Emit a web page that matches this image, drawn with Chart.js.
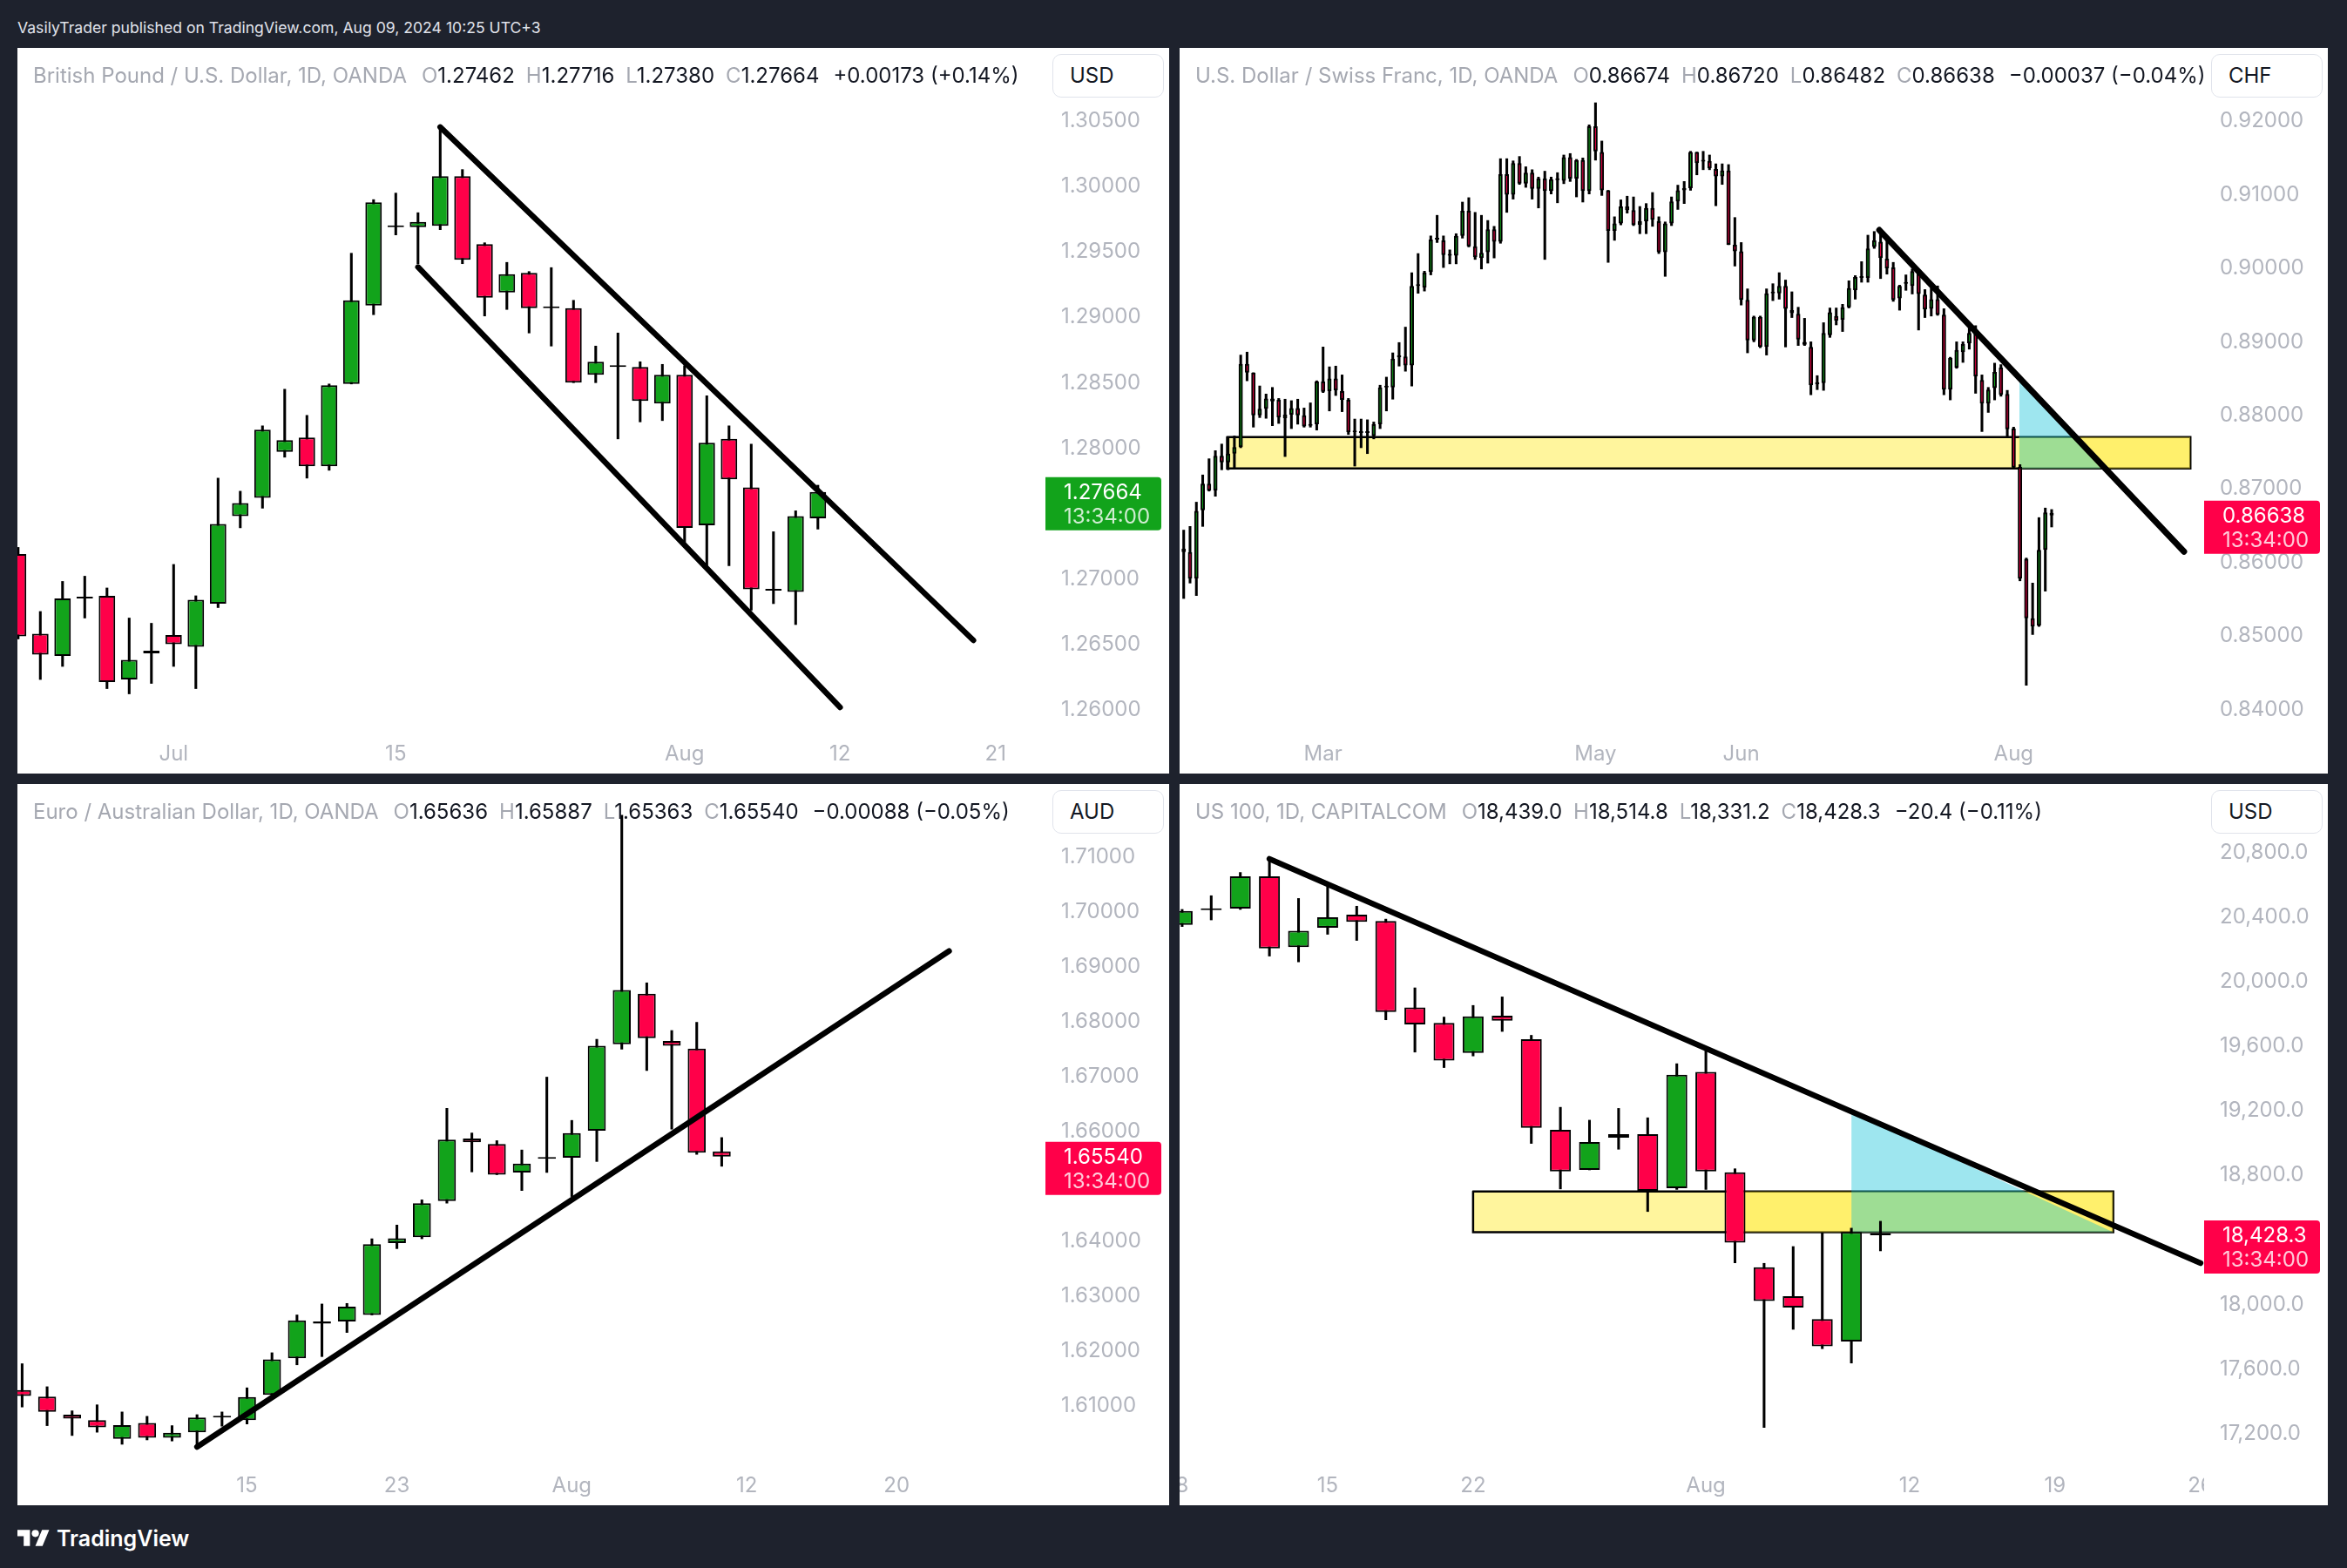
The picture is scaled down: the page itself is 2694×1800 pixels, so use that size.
<!DOCTYPE html>
<html lang="en">
<head>
<meta charset="UTF-8">
<title>TradingView snapshot</title>
<script src="https://cdn.jsdelivr.net/npm/chart.js"></script>
<style>
  body { margin:0; background:#1e222d; width:2694px; height:1800px; position:relative; overflow:hidden; font-family: Inter, "Noto Sans", sans-serif; }
  .panel { position:absolute; background:#fff; overflow:hidden; }
  .panel canvas { position:absolute; left:0; top:0; }
  .legend { position:absolute; left:18px; top:18px; font-size:24px; line-height:28px; color:#131722; white-space:nowrap; }
  .legend .t { color:#a5a8b1; margin-right:4px; }
  .legend .k { color:#a5a8b1; margin-left:13px; }
  .legend .v { margin-left:16px; }
  .cur { position:absolute; top:7px; width:128px; height:50px; box-sizing:border-box; border:1px solid #e0e3eb; border-radius:10px; font-size:24px; line-height:48px; padding-left:19px; color:#131722; background:#fff; }
  #hdr { position:absolute; left:20px; top:21px; font-size:17.6px; line-height:22px; color:#e0e3eb; white-space:nowrap; }
  #foot { position:absolute; left:20px; top:1750px; height:32px; display:flex; align-items:center; color:#fff; font-size:25px; font-weight:600; }
  #foot svg { margin-right:8px; }
</style>
</head>
<body>
<div id="hdr">VasilyTrader published on TradingView.com, Aug 09, 2024 10:25 UTC+3</div>

<div class="panel" style="left:20px; top:55px; width:1322px; height:833px">
  <canvas id="gbp" width="1322" height="833"></canvas>
  <div class="legend"><span class="t">British Pound / U.S. Dollar, 1D, OANDA</span><span class="k">O</span>1.27462<span class="k">H</span>1.27716<span class="k">L</span>1.27380<span class="k">C</span>1.27664<span class="v">+0.00173 (+0.14%)</span></div>
  <div class="cur" style="left:1188px">USD</div>
</div>

<div class="panel" style="left:1354px; top:55px; width:1318px; height:833px">
  <canvas id="chf" width="1318" height="833"></canvas>
  <div class="legend"><span class="t">U.S. Dollar / Swiss Franc, 1D, OANDA</span><span class="k">O</span>0.86674<span class="k">H</span>0.86720<span class="k">L</span>0.86482<span class="k">C</span>0.86638<span class="v">&minus;0.00037 (&minus;0.04%)</span></div>
  <div class="cur" style="left:1184px">CHF</div>
</div>

<div class="panel" style="left:20px; top:900px; width:1322px; height:828px">
  <canvas id="aud" width="1322" height="828"></canvas>
  <div class="legend"><span class="t">Euro / Australian Dollar, 1D, OANDA</span><span class="k">O</span>1.65636<span class="k">H</span>1.65887<span class="k">L</span>1.65363<span class="k">C</span>1.65540<span class="v">&minus;0.00088 (&minus;0.05%)</span></div>
  <div class="cur" style="left:1188px">AUD</div>
</div>

<div class="panel" style="left:1354px; top:900px; width:1318px; height:828px">
  <canvas id="ndx" width="1318" height="828"></canvas>
  <div class="legend"><span class="t">US 100, 1D, CAPITALCOM</span><span class="k">O</span>18,439.0<span class="k">H</span>18,514.8<span class="k">L</span>18,331.2<span class="k">C</span>18,428.3<span class="v">&minus;20.4 (&minus;0.11%)</span></div>
  <div class="cur" style="left:1184px">USD</div>
</div>

<div id="foot">
  <svg width="37" height="29" viewBox="0 0 36 28"><path d="M14 22H7V11H0V4h14v18zM28 22h-8l7.5-18h8L28 22z" fill="#fff"/><circle cx="20" cy="8" r="4" fill="#fff"/></svg>
  TradingView
</div>

<script>
// ---- GBPUSD daily, first candle = Jun 20 (index 0 = Jul 1) ----
const gbpFirst = -7;
const gbpOpen  = [1.2719,1.2658,1.2641,1.2685,1.2687,1.2623,1.2643,1.2657,1.2648,1.2681,1.2748,1.2762,1.2797,1.2808,1.2786,1.2849,1.2909,1.2969,1.2969,1.2970,1.3008,1.2956,1.2919,1.2934,1.2907,1.2907,1.2856,1.2862,1.2862,1.2834,1.2856,1.2741,1.2807,1.2770,1.2691,1.2690,1.27462];
const gbpHigh  = [1.2724,1.2675,1.2698,1.2702,1.2693,1.2670,1.2666,1.2711,1.2687,1.2777,1.2767,1.2817,1.2845,1.2825,1.2849,1.2949,1.2990,1.2995,1.2980,1.3046,1.3013,1.2957,1.2942,1.2935,1.2938,1.2913,1.2878,1.2888,1.2866,1.2864,1.2863,1.2840,1.2817,1.2803,1.2736,1.2752,1.27716];
const gbpLow   = [1.2654,1.2623,1.2633,1.2670,1.2616,1.2612,1.2620,1.2633,1.2616,1.2678,1.2739,1.2754,1.2793,1.2777,1.2783,1.2849,1.2902,1.2963,1.2941,1.2967,1.2941,1.2901,1.2906,1.2888,1.2878,1.2850,1.2850,1.2807,1.2820,1.2821,1.2728,1.2710,1.2710,1.2676,1.2681,1.2665,1.27380];
const gbpClose = [1.2656,1.2642,1.2685,1.2686,1.2621,1.2638,1.2645,1.2650,1.2684,1.2742,1.2758,1.2814,1.2806,1.2786,1.2848,1.2913,1.2988,1.2970,1.2973,1.3008,1.2944,1.2915,1.2933,1.2907,1.2908,1.2850,1.2866,1.2862,1.2836,1.2856,1.2739,1.2804,1.2776,1.2692,1.2692,1.2748,1.27664];
const gbpTicks = [1.26,1.265,1.27,1.275,1.28,1.285,1.29,1.295,1.30,1.305];
const gbpDays  = [0,10,23,30,37];
const gbpDayLabels = ['Jul','15','Aug','12','21'];
const gbpUpper = [{x:12,y:1.30455},{x:36,y:1.2653}];
const gbpLower = [{x:11,y:1.29384},{x:30,y:1.26017}];

// ---- USDCHF daily, first candle index -22 (index 0 = Mar 1) ----
const chfFirst = -22;
const chfOpen = [0.8619,0.8614,0.8578,0.8671,0.8707,0.8698,0.8745,0.8736,0.8748,0.8757,
  0.8870,0.8858,0.8800,0.8809,0.8823,0.8821,0.8796,0.8801,0.8810,0.8800,
  0.8787,0.8788,0.8846,0.8833,0.8850,0.8833,0.8821,0.8777,0.8778,0.8776,
  0.8772,0.8788,0.8838,0.8838,0.8879,0.8880,0.8868,0.8976,0.8974,0.8995,
  0.9039,0.9038,0.9018,0.9017,0.9044,0.9078,0.9030,0.9014,0.9022,0.9053,
  0.9036,0.9128,0.9100,0.9143,0.9115,0.9130,0.9108,0.9122,0.9105,0.9121,
  0.9119,0.9151,0.9122,0.9147,0.9105,0.9193,0.9158,0.9106,0.9051,0.9061,
  0.9084,0.9079,0.9059,0.9064,0.9082,0.9064,0.9022,0.9061,0.9091,0.9106,
  0.9109,0.9158,0.9146,0.9146,0.9135,0.9125,0.9133,0.9032,0.9023,0.8957,
  0.8902,0.8934,0.8893,0.8966,0.8966,0.8976,0.8943,0.8938,0.8900,0.8893,
  0.8842,0.8844,0.8909,0.8935,0.8930,0.8947,0.8970,0.8987,0.8987,0.9029,
  0.9036,0.9013,0.9001,0.8959,0.8979,0.8976,0.8994,0.8964,0.8945,0.8958,
  0.8937,0.8835,0.8865,0.8886,0.8898,0.8912,0.8848,0.8816,0.8837,0.8865,
  0.8829,0.8782,0.8730,0.8605,0.8524,0.8514,0.8617,0.86674];
const chfHigh = [0.8644,0.8649,0.8682,0.8719,0.8741,0.8752,0.8761,0.8771,0.8772,0.8882,
  0.8886,0.8858,0.8840,0.8829,0.8838,0.8823,0.8822,0.8820,0.8822,0.8810,
  0.8817,0.8847,0.8893,0.8866,0.8867,0.8855,0.8823,0.8795,0.8795,0.8794,
  0.8791,0.8841,0.8852,0.8885,0.8899,0.8920,0.8994,0.9020,0.8996,0.9044,
  0.9072,0.9044,0.9025,0.9047,0.9090,0.9096,0.9076,0.9072,0.9065,0.9057,
  0.9149,0.9149,0.9146,0.9152,0.9138,0.9134,0.9124,0.9132,0.9124,0.9130,
  0.9154,0.9156,0.9148,0.9150,0.9195,0.9225,0.9173,0.9106,0.9070,0.9093,
  0.9098,0.9097,0.9084,0.9088,0.9103,0.9070,0.9063,0.9097,0.9113,0.9118,
  0.9159,0.9158,0.9159,0.9154,0.9142,0.9142,0.9141,0.9069,0.9035,0.8972,
  0.8935,0.8935,0.8972,0.8979,0.8994,0.8984,0.8968,0.8947,0.8932,0.8900,
  0.8854,0.8926,0.8946,0.8946,0.8951,0.8983,0.8990,0.9009,0.9045,0.9050,
  0.9046,0.9039,0.9008,0.8977,0.8991,0.8999,0.8995,0.8971,0.8973,0.8976,
  0.8945,0.8879,0.8900,0.8900,0.8922,0.8922,0.8855,0.8838,0.8871,0.8869,
  0.8834,0.8784,0.8733,0.8606,0.8572,0.8661,0.8674,0.86720];
const chfLow = [0.8551,0.8572,0.8555,0.8649,0.8697,0.8690,0.8726,0.8726,0.8728,0.8756,
  0.8847,0.8784,0.8797,0.8796,0.8786,0.8789,0.8744,0.8782,0.8788,0.8784,
  0.8784,0.8780,0.8831,0.8806,0.8827,0.8805,0.8774,0.8731,0.8756,0.8748,
  0.8768,0.8782,0.8806,0.8822,0.8867,0.8860,0.8840,0.8966,0.8969,0.8991,
  0.9035,0.9001,0.9006,0.9006,0.9041,0.9029,0.9012,0.8999,0.9007,0.9014,
  0.9034,0.9076,0.9094,0.9114,0.9110,0.9094,0.9082,0.9012,0.9101,0.9089,
  0.9115,0.9118,0.9097,0.9090,0.9101,0.9147,0.9099,0.9008,0.9038,0.9059,
  0.9075,0.9058,0.9047,0.9047,0.9057,0.9020,0.8989,0.9058,0.9080,0.9088,
  0.9106,0.9127,0.9134,0.9134,0.9085,0.9114,0.9032,0.9003,0.8950,0.8885,
  0.8900,0.8892,0.8882,0.8956,0.8958,0.8893,0.8933,0.8895,0.8895,0.8828,
  0.8835,0.8834,0.8906,0.8923,0.8914,0.8946,0.8958,0.8981,0.8981,0.9027,
  0.8986,0.8992,0.8955,0.8943,0.8970,0.8965,0.8916,0.8933,0.8935,0.8936,
  0.8828,0.8821,0.8864,0.8872,0.8890,0.8830,0.8778,0.8804,0.8821,0.8826,
  0.8771,0.8729,0.8575,0.8433,0.8502,0.8513,0.8561,0.86482];
const chfClose = [0.8614,0.8578,0.8670,0.8707,0.8698,0.8745,0.8736,0.8748,0.8757,0.8870,
  0.8858,0.8800,0.8809,0.8823,0.8819,0.8797,0.8801,0.8810,0.8800,0.8785,
  0.8786,0.8846,0.8832,0.8850,0.8834,0.8821,0.8777,0.8778,0.8776,0.8777,
  0.8788,0.8838,0.8839,0.8877,0.8880,0.8868,0.8976,0.8977,0.8994,0.9039,
  0.9039,0.9018,0.9017,0.9044,0.9078,0.9030,0.9015,0.9021,0.9053,0.9036,
  0.9128,0.9100,0.9143,0.9115,0.9130,0.9108,0.9122,0.9105,0.9121,0.9120,
  0.9151,0.9122,0.9147,0.9105,0.9193,0.9159,0.9106,0.9051,0.9061,0.9084,
  0.9079,0.9059,0.9064,0.9082,0.9066,0.9022,0.9061,0.9091,0.9106,0.9109,
  0.9158,0.9143,0.9145,0.9136,0.9125,0.9133,0.9032,0.9023,0.8957,0.8902,
  0.8934,0.8893,0.8966,0.8968,0.8976,0.8945,0.8939,0.8903,0.8896,0.8841,
  0.8845,0.8912,0.8940,0.8929,0.8947,0.8973,0.8988,0.8988,0.9027,0.9038,
  0.9014,0.9000,0.8957,0.8976,0.8980,0.8996,0.8965,0.8944,0.8958,0.8937,
  0.8835,0.8878,0.8889,0.8897,0.8912,0.8853,0.8816,0.8835,0.8859,0.8828,
  0.8781,0.8729,0.8578,0.8524,0.8513,0.8617,0.8668,0.86638];
const chfTicks = [0.84,0.85,0.86,0.87,0.88,0.89,0.90,0.91,0.92];
const chfDays  = [0,43,66,109];
const chfDayLabels = ['Mar','May','Jun','Aug'];
const chfTrend = [{x:87.8,y:0.9052},{x:135.9,y:0.86147}];
const chfZone  = {x1:-15.15, x2:136.9, top:0.87704, bottom:0.87277};
const chfZone2 = {x1:109.8, x2:136.9, top:0.87704, bottom:0.87277};
const chfTri   = [{x:109.9,y:0.8848},{x:122.8,y:0.87277}];

// ---- EURAUD daily, first candle index -9 (index 0 = Jul 15) ----
const audFirst = -9;
const audOpen  = [1.6128,1.6116,1.6083,1.6073,1.6039,1.6068,1.6041,1.6051,1.6078,1.6073,1.6119,1.6186,1.6253,1.6253,1.6265,1.6396,1.6407,1.6473,1.6587,1.6577,1.6525,1.6550,1.6552,1.6601,1.6759,1.6851,1.6765,1.6751,1.65636];
const audHigh  = [1.6176,1.6134,1.6090,1.6101,1.6088,1.6080,1.6063,1.6083,1.6088,1.6132,1.6196,1.6265,1.6285,1.6286,1.6404,1.6429,1.6475,1.6642,1.6597,1.6583,1.6566,1.6699,1.6620,1.6768,1.7177,1.6871,1.6784,1.6799,1.65887];
const audLow   = [1.6097,1.6063,1.6045,1.6051,1.6029,1.6037,1.6035,1.6024,1.6062,1.6066,1.6116,1.6174,1.6189,1.6233,1.6265,1.6386,1.6404,1.6469,1.6526,1.6521,1.6492,1.6525,1.6481,1.6545,1.6750,1.6711,1.6604,1.6558,1.65363];
const audClose = [1.6117,1.6088,1.6076,1.6060,1.6064,1.6041,1.6050,1.6078,1.6079,1.6115,1.6184,1.6255,1.6249,1.6280,1.6394,1.6405,1.6469,1.6585,1.6580,1.6521,1.6541,1.6550,1.6597,1.6756,1.6858,1.6770,1.6756,1.6561,1.65540];
const audTicks = [1.61,1.62,1.63,1.64,1.65,1.66,1.67,1.68,1.69,1.70,1.71];
const audDays  = [0,6,13,20,26];
const audDayLabels = ['15','23','Aug','12','20'];
const audTrend = [{x:-2,y:1.60242},{x:28.1,y:1.69291}];

// ---- US100 daily, first candle index -5 (index 0 = Jul 15) ----
const ndxFirst = -5;
const ndxOpen  = [20351,20443,20452,20652,20214,20334,20414,20375,19840,19744,19558,19789,19642,19081,18833,19033,19054,18719,19440,18818,18230,18050,17908,17769,18439.0];
const ndxHigh  = [20447,20532,20676,20756,20515,20587,20467,20387,19961,19780,19852,19905,19667,19221,19141,19214,19156,19491,19570,18840,18254,18358,18443,18472,18514.8];
const ndxLow   = [20341,20382,20447,20158,20122,20293,20255,19763,19563,19467,19539,19691,18997,18715,18833,18961,18575,18712,18712,18257,17237,17845,17725,17636,18331.2];
const ndxClose = [20438,20446,20652,20206,20315,20399,20370,19811,19734,19510,19785,19758,19093,18823,19006,19054,18703,19423,18823,18382,18021,17980,17740,18449,18428.3];
const ndxTicks = [17200,17600,18000,18400,18800,19200,19600,20000,20400,20800];
const ndxDays  = [-5,0,5,13,20,25,30];
const ndxDayLabels = ['8','15','22','Aug','12','19','26'];
const ndxTrend = [{x:-2,y:20760.6},{x:30,y:18255.3}];
const ndxZone  = {x1:5, x2:27, top:18700, bottom:18447};
const ndxZone2 = {x1:14.2, x2:27, top:18700, bottom:18447};
const ndxTri   = [{x:18,y:19195},{x:27,y:18447}];

const UP = '#12a31b', DOWN = '#ff0049', GRAY = '#b2b5be';
Chart.defaults.font.family = 'Inter, "Noto Sans", sans-serif';

function line(pts, width, order) {
  return {type:'line', data:pts, borderColor:'#000', borderWidth:width, borderCapStyle:'round',
          pointRadius:0, fill:false, order:order};
}
function band(z, color, order) {
  return {type:'line', data:[{x:z.x1,y:z.top},{x:z.x2,y:z.top}], borderColor:'rgba(0,0,0,0)', borderWidth:0,
          pointRadius:0, fill:{value:z.bottom}, backgroundColor:color, order:order};
}
function outline(z, order) {
  return line([{x:z.x1,y:z.top},{x:z.x2,y:z.top},{x:z.x2,y:z.bottom},{x:z.x1,y:z.bottom},{x:z.x1,y:z.top}], 2.5, order);
}

// last price tag on the price scale, and the time labels cut at the price scale
function tagPlugin(value, text, color) {
  return {
    id:'tag',
    afterDraw(chart) {
      const ctx = chart.ctx, a = chart.chartArea;
      const y = chart.scales.y.getPixelForValue(value);
      ctx.save();
      ctx.fillStyle = '#fff';
      ctx.fillRect(a.right, a.bottom, chart.width - a.right, chart.height - a.bottom);
      ctx.fillStyle = color;
      ctx.beginPath();
      ctx.roundRect(a.right, y - 17, 133, 61, [0, 4, 4, 0]);
      ctx.fill();
      ctx.font = '24px Inter, "Noto Sans", sans-serif';
      ctx.textBaseline = 'middle';
      ctx.fillStyle = '#fff';
      ctx.fillText(text, a.right + 21, y + 1);
      ctx.fillStyle = 'rgba(255,255,255,0.8)';
      ctx.fillText('13:34:00', a.right + 21, y + 29);
      ctx.restore();
    }
  };
}

function candleChart(id, c) {
  const bodies = [], wicks = [], colors = [];
  for (let k = 0; k < c.open.length; k++) {
    bodies.push({x:c.first + k, y:[c.open[k], c.close[k]]});
    wicks.push({x:c.first + k, y:[c.low[k], c.high[k]]});
    colors.push(c.close[k] >= c.open[k] ? UP : DOWN);
  }
  const sets = [
    {type:'bar', data:wicks, backgroundColor:'#000', barThickness:2.4, grouped:false, order:6},
    {type:'bar', data:bodies, backgroundColor:colors, borderColor:'#000', borderWidth:2, borderSkipped:false,
     grouped:false, barPercentage:c.bodyPct, categoryPercentage:1, minBarLength:2, order:5}
  ].concat(c.extra);
  const last = c.close[c.close.length - 1];
  return new Chart(document.getElementById(id), {
    type:'bar',
    data:{datasets:sets},
    plugins:[tagPlugin(last, c.fmt(last), last >= c.open[c.open.length - 1] ? UP : DOWN)],
    options:{
      responsive:false, animation:false, events:[],
      layout:{padding:0},
      plugins:{legend:{display:false}, tooltip:{enabled:false}},
      scales:{
        x:{type:'linear', min:c.xMin, max:c.xMax, offset:false, bounds:'data',
           grid:{display:false, drawTicks:false, offset:false}, border:{display:false},
           afterBuildTicks: s => { s.ticks = c.days.map(v => ({value:v})); },
           afterFit: s => { s.height = 43; s.paddingLeft = 0; s.paddingRight = 0; },
           ticks:{padding:6, autoSkip:false, maxRotation:0, color:GRAY, font:{size:24},
                  callback: v => c.dayLabels[c.days.indexOf(v)]}},
        y:{type:'linear', position:'right', min:c.yMin, max:c.yMax, bounds:'data',
           grid:{display:false, drawTicks:false}, border:{display:false},
           afterBuildTicks: s => { s.ticks = c.ticks.map(v => ({value:v})); },
           afterFit: s => { s.width = 142; s.paddingTop = 0; s.paddingBottom = 0; },
           ticks:{padding:18, color:GRAY, font:{size:24}, callback: v => c.fmt(v)}}
      }
    }
  });
}

const fx5 = v => v.toFixed(5);
const idx1 = v => v.toLocaleString('en-US', {minimumFractionDigits:1, maximumFractionDigits:1});

candleChart('gbp', {first:gbpFirst, open:gbpOpen, high:gbpHigh, low:gbpLow, close:gbpClose,
  ticks:gbpTicks, days:gbpDays, dayLabels:gbpDayLabels, fmt:fx5, bodyPct:0.74,
  xMin:-7.031, xMax:39.243, yMin:1.257971, yMax:1.310603,
  extra:[line(gbpUpper, 6.5, 1), line(gbpLower, 6.5, 1)]});

candleChart('chf', {first:chfFirst, open:chfOpen, high:chfHigh, low:chfLow, close:chfClose,
  ticks:chfTicks, days:chfDays, dayLabels:chfDayLabels, fmt:fx5, bodyPct:0.68,
  xMin:-22.648, xMax:139.07, yMin:0.836393, yMax:0.929961,
  extra:[band(chfZone, '#fff59d', 10), outline(chfZone, 9), band(chfZone2, 'rgba(255,235,59,0.5)', 8),
         {type:'line', data:chfTri, borderColor:'rgba(0,0,0,0)', borderWidth:0, pointRadius:0,
          fill:{value:chfZone.bottom}, backgroundColor:'rgba(0,188,212,0.38)', order:7},
         line(chfTrend, 7, 1)]});

candleChart('aud', {first:audFirst, open:audOpen, high:audHigh, low:audLow, close:audClose,
  ticks:audTicks, days:audDays, dayLabels:audDayLabels, fmt:fx5, bodyPct:0.72,
  xMin:-9.188, xMax:31.956, yMin:1.598604, yMax:1.723384,
  extra:[line(audTrend, 6.5, 1)]});

candleChart('ndx', {first:ndxFirst, open:ndxOpen, high:ndxHigh, low:ndxLow, close:ndxClose,
  ticks:ndxTicks, days:ndxDays, dayLabels:ndxDayLabels, fmt:idx1, bodyPct:0.72,
  xMin:-5.087, xMax:30.123, yMin:16986.8, yMax:21224.3,
  extra:[band(ndxZone, '#fff59d', 10), outline(ndxZone, 9), band(ndxZone2, 'rgba(255,235,59,0.5)', 8),
         {type:'line', data:ndxTri, borderColor:'rgba(0,0,0,0)', borderWidth:0, pointRadius:0,
          fill:{value:ndxZone.bottom}, backgroundColor:'rgba(0,188,212,0.38)', order:7},
         line(ndxTrend, 6.5, 1)]});
</script>
</body>
</html>
